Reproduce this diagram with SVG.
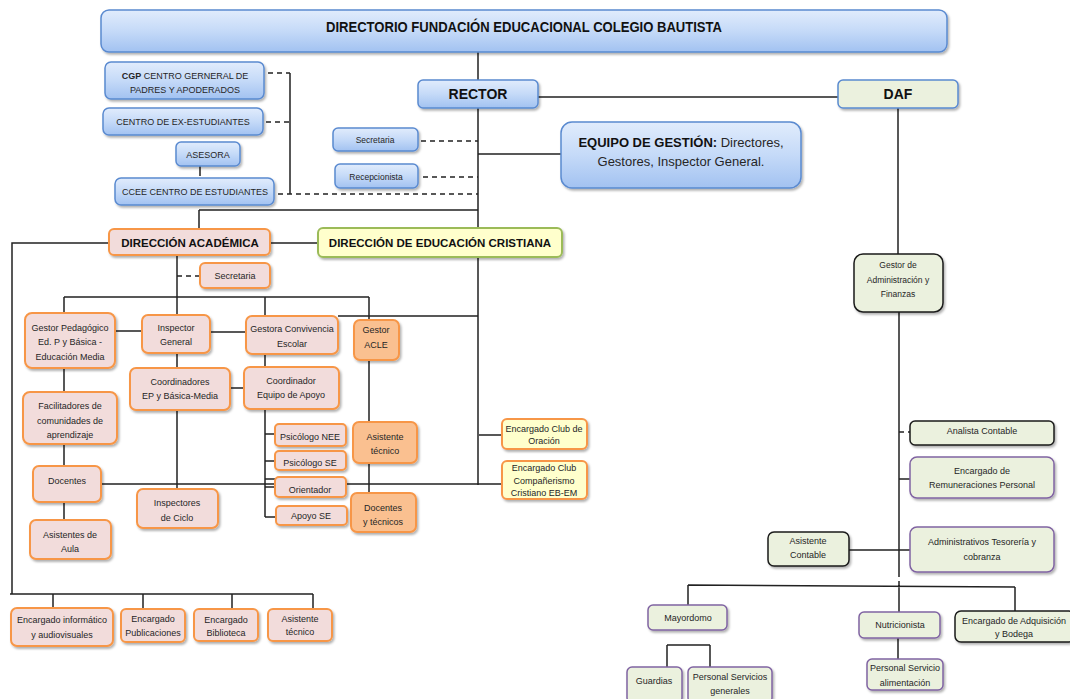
<svg xmlns="http://www.w3.org/2000/svg" width="1070" height="699" viewBox="0 0 1070 699">
<defs>
<linearGradient id="gb" x1="0" y1="0" x2="0" y2="1">
<stop offset="0" stop-color="#e1ecfc"/>
<stop offset="0.5" stop-color="#c5daf8"/>
<stop offset="1" stop-color="#a2c2f1"/>
</linearGradient>
<filter id="sh" x="-10%" y="-10%" width="130%" height="140%">
<feDropShadow dx="1.5" dy="2" stdDeviation="1.2" flood-color="#000" flood-opacity="0.3"/>
</filter>
<style>
.b{fill:url(#gb);stroke:#5a8ad0;stroke-width:1.5;filter:url(#sh)}
.p{fill:#f2dcdb;stroke:#f79646;stroke-width:2;filter:url(#sh)}
.o{fill:#fac090;stroke:#f79646;stroke-width:2;filter:url(#sh)}
.y{fill:#ffffcc;stroke:#f79646;stroke-width:2;filter:url(#sh)}
.yg{fill:#ffffcc;stroke:#9bbb59;stroke-width:2;filter:url(#sh)}
.g{fill:#ebf1de;stroke:#1a1a1a;stroke-width:1.5;filter:url(#sh)}
.gb{fill:#ebf1de;stroke:#5a8ad0;stroke-width:1.5;filter:url(#sh)}
.v{fill:#ebf1de;stroke:#8064a2;stroke-width:1.5;filter:url(#sh)}
.l{stroke:#222;stroke-width:1.5;fill:none}
.d{stroke:#222;stroke-width:1.5;fill:none;stroke-dasharray:5 4}
text{font-family:"Liberation Sans",Arial,sans-serif;font-size:9px;fill:#262626;text-anchor:middle}
.bt{font-weight:bold;font-size:14px;fill:#111}
.mt{font-weight:bold;font-size:11.5px;fill:#111}
.eq{font-size:13px}
.s{font-size:8.5px}
</style>
</defs>
<g id="connectors">
<path class="l" d="M478,52V80M478,108V485M538,97H838"/>
<path class="d" d="M268,73H290M266,122H290M278,194H478M421,141H478M423,177H478"/>
<path class="l" d="M290,73V194M200,166V176M478,154H561M199,210H478M199,210V229M270,243H318"/>
<path class="l" d="M109,243H12V594M10,594H313M53,594V608M143,594V609M232,594V609M313,594V609"/>
<path class="l" d="M177,255V315"/>
<path class="d" d="M177,276H200"/>
<path class="l" d="M64,297H369M64,297V313M265,297V316M369,297V320M338,316H478"/>
<path class="l" d="M115,331H142M210,332H246M177,353V368M265,354V367M230,388H244M177,410V489"/>
<path class="l" d="M64,368V392M64,444V466M64,502V520M101,484H502"/>
<path class="l" d="M265,409V517M265,434H275M265,461H275M265,479H275M265,487H275M265,517H276"/>
<path class="l" d="M369,360V422M369,463V493M479,435H502"/>
<path class="l" d="M898,108V254M899,312V577"/>
<path class="d" d="M899,432H910"/>
<path class="l" d="M899,479H910M849,550H910"/>
<path class="l" d="M688,585L1015,587M688,585V605M1015,587V611M899,581V612M898,638V659"/>
<path class="l" d="M667,645H710M667,645V667M710,645V667"/>
</g>
<g id="directorio"><rect class="b" x="101" y="10" width="846" height="42" rx="8"/><text class="bt" x="326" y="32" style="text-anchor:start" textLength="396" lengthAdjust="spacingAndGlyphs">DIRECTORIO FUNDACIÓN EDUCACIONAL COLEGIO  BAUTISTA</text></g>
<g id="cgp"><rect class="b" x="105" y="62" width="159" height="37" rx="6"/><text x="185" y="79"><tspan font-weight="bold">CGP</tspan> CENTRO GERNERAL DE</text><text x="185" y="93">PADRES Y APODERADOS</text></g>
<g id="exestudiantes"><rect class="b" x="103" y="108" width="160" height="27" rx="6"/><text x="183" y="125">CENTRO DE EX-ESTUDIANTES</text></g>
<g id="asesora"><rect class="b" x="176" y="142" width="64" height="24" rx="5"/><text x="208" y="158">ASESORA</text></g>
<g id="ccee"><rect class="b" x="115" y="178" width="159" height="27" rx="6"/><text x="195" y="195">CCEE CENTRO DE ESTUDIANTES</text></g>
<g id="rector"><rect class="b" x="418" y="80" width="120" height="28" rx="5"/><text class="bt" x="478" y="99">RECTOR</text></g>
<g id="daf"><rect class="gb" x="838" y="80" width="120" height="28" rx="5"/><text class="bt" x="898" y="99">DAF</text></g>
<g id="secretaria-rector"><rect class="b" x="333" y="128" width="85" height="23" rx="5"/><text class="s" x="375" y="143">Secretaria</text></g>
<g id="recepcionista"><rect class="b" x="335" y="164" width="83" height="24" rx="5"/><text class="s" x="376" y="180">Recepcionista</text></g>
<g id="equipo-gestion"><rect class="b" x="561" y="122" width="240" height="66" rx="11"/><text class="eq" x="681" y="147"><tspan font-weight="bold" fill="#111">EQUIPO DE GESTIÓN:</tspan>  Directores,</text><text class="eq" x="681" y="166">Gestores, Inspector General.</text></g>
<g id="direccion-academica"><rect class="p" x="109" y="229" width="161" height="26" rx="5"/><text class="mt" x="190" y="247">DIRECCIÓN ACADÉMICA</text></g>
<g id="direccion-ed-cristiana"><rect class="yg" x="318" y="228" width="244" height="29" rx="5"/><text class="mt" x="440" y="247">DIRECCIÓN DE EDUCACIÓN CRISTIANA</text></g>
<g id="secretaria-da"><rect class="p" x="200" y="263" width="70" height="25" rx="5"/><text x="235" y="279">Secretaria</text></g>
<g id="gestor-pedagogico"><rect class="p" x="25" y="313" width="90" height="55" rx="7"/><text x="70" y="331">Gestor Pedagógico</text><text x="70" y="345">Ed. P y Básica -</text><text x="70" y="360">Educación Media</text></g>
<g id="inspector-general"><rect class="p" x="142" y="315" width="68" height="38" rx="6"/><text x="176" y="331">Inspector</text><text x="176" y="345">General</text></g>
<g id="gestora-convivencia"><rect class="p" x="246" y="316" width="92" height="38" rx="6"/><text x="292" y="332">Gestora Convivencia</text><text x="292" y="347">Escolar</text></g>
<g id="gestor-acle"><rect class="o" x="354" y="320" width="45" height="40" rx="6"/><text x="376" y="333">Gestor</text><text x="376" y="348">ACLE</text></g>
<g id="coordinadores"><rect class="p" x="130" y="368" width="100" height="42" rx="6"/><text x="180" y="385">Coordinadores</text><text x="180" y="399">EP y Básica-Media</text></g>
<g id="coordinador-apoyo"><rect class="p" x="244" y="367" width="95" height="42" rx="6"/><text x="291" y="384">Coordinador</text><text x="291" y="398">Equipo de Apoyo</text></g>
<g id="facilitadores"><rect class="p" x="23" y="392" width="94" height="52" rx="7"/><text x="70" y="409">Facilitadores de</text><text x="70" y="424">comunidades de</text><text x="70" y="438">aprendizaje</text></g>
<g id="docentes"><rect class="p" x="33" y="466" width="68" height="36" rx="6"/><text x="67" y="484">Docentes</text></g>
<g id="asistentes-aula"><rect class="p" x="30" y="520" width="81" height="39" rx="6"/><text x="70" y="538">Asistentes de</text><text x="70" y="552">Aula</text></g>
<g id="inspectores-ciclo"><rect class="p" x="137" y="489" width="81" height="39" rx="6"/><text x="177" y="506">Inspectores</text><text x="177" y="521">de Ciclo</text></g>
<g id="psicologo-nee"><rect class="p" x="275" y="424" width="71" height="22" rx="4"/><text x="310" y="440">Psicólogo NEE</text></g>
<g id="psicologo-se"><rect class="p" x="275" y="451" width="71" height="19" rx="4"/><text x="310" y="466">Psicólogo SE</text></g>
<g id="orientador"><rect class="p" x="275" y="477" width="71" height="20" rx="4"/><text x="310" y="493">Orientador</text></g>
<g id="apoyo-se"><rect class="p" x="276" y="506" width="71" height="19" rx="4"/><text x="311" y="519">Apoyo SE</text></g>
<g id="asistente-tecnico-acle"><rect class="o" x="353" y="422" width="64" height="41" rx="6"/><text x="385" y="440">Asistente</text><text x="385" y="454">técnico</text></g>
<g id="docentes-tecnicos"><rect class="o" x="351" y="493" width="65" height="39" rx="6"/><text x="383" y="511">Docentes</text><text x="383" y="525">y técnicos</text></g>
<g id="club-oracion"><rect class="y" x="502" y="419" width="85" height="30" rx="5"/><text x="544" y="432">Encargado Club de</text><text x="544" y="444">Oración</text></g>
<g id="club-companerismo"><rect class="y" x="502" y="461" width="85" height="38" rx="5"/><text x="544" y="471">Encargado Club</text><text x="544" y="484">Compañerismo</text><text x="544" y="496">Cristiano EB-EM</text></g>
<g id="encargado-informatico"><rect class="p" x="11" y="608" width="102" height="38" rx="6"/><text x="62" y="623">Encargado informático</text><text x="62" y="638">y audiovisuales</text></g>
<g id="encargado-publicaciones"><rect class="p" x="121" y="609" width="64" height="33" rx="5"/><text x="153" y="622">Encargado</text><text x="153" y="636">Publicaciones</text></g>
<g id="encargado-biblioteca"><rect class="p" x="194" y="609" width="64" height="32" rx="5"/><text x="226" y="623">Encargado</text><text x="226" y="636">Biblioteca</text></g>
<g id="asistente-tecnico"><rect class="p" x="268" y="609" width="64" height="32" rx="5"/><text x="300" y="622">Asistente</text><text x="300" y="635">técnico</text></g>
<g id="gestor-af"><rect class="g" x="854" y="254" width="89" height="58" rx="9"/><text class="s" x="898" y="268">Gestor de</text><text class="s" x="898" y="283">Administración y</text><text class="s" x="898" y="297">Finanzas</text></g>
<g id="analista-contable"><rect class="g" x="910" y="421" width="144" height="24" rx="5"/><text x="982" y="434">Analista Contable</text></g>
<g id="remuneraciones"><rect class="v" x="910" y="457" width="144" height="41" rx="7"/><text x="982" y="474">Encargado de</text><text x="982" y="488">Remuneraciones Personal</text></g>
<g id="tesoreria"><rect class="v" x="910" y="527" width="144" height="45" rx="7"/><text x="982" y="545">Administrativos Tesorería y</text><text x="982" y="560">cobranza</text></g>
<g id="asistente-contable"><rect class="g" x="768" y="532" width="81" height="34" rx="6"/><text x="808" y="544">Asistente</text><text x="808" y="558">Contable</text></g>
<g id="mayordomo"><rect class="v" x="648" y="605" width="79" height="25" rx="5"/><text x="688" y="621">Mayordomo</text></g>
<g id="nutricionista"><rect class="v" x="859" y="612" width="81" height="26" rx="5"/><text x="900" y="628">Nutricionista</text></g>
<g id="adquisicion"><rect class="g" x="955" y="611" width="120" height="31" rx="6"/><text x="1014" y="624">Encargado de Adquisición</text><text x="1014" y="637">y Bodega</text></g>
<g id="servicio-alimentacion"><rect class="v" x="867" y="659" width="76" height="31" rx="5"/><text x="905" y="671">Personal Servicio</text><text x="905" y="686">alimentación</text></g>
<g id="guardias"><rect class="v" x="627" y="667" width="55" height="36" rx="5"/><text x="654" y="684">Guardias</text></g>
<g id="servicios-generales"><rect class="v" x="688" y="667" width="84" height="36" rx="5"/><text x="730" y="680">Personal Servicios</text><text x="730" y="694">generales</text></g>
</svg>
